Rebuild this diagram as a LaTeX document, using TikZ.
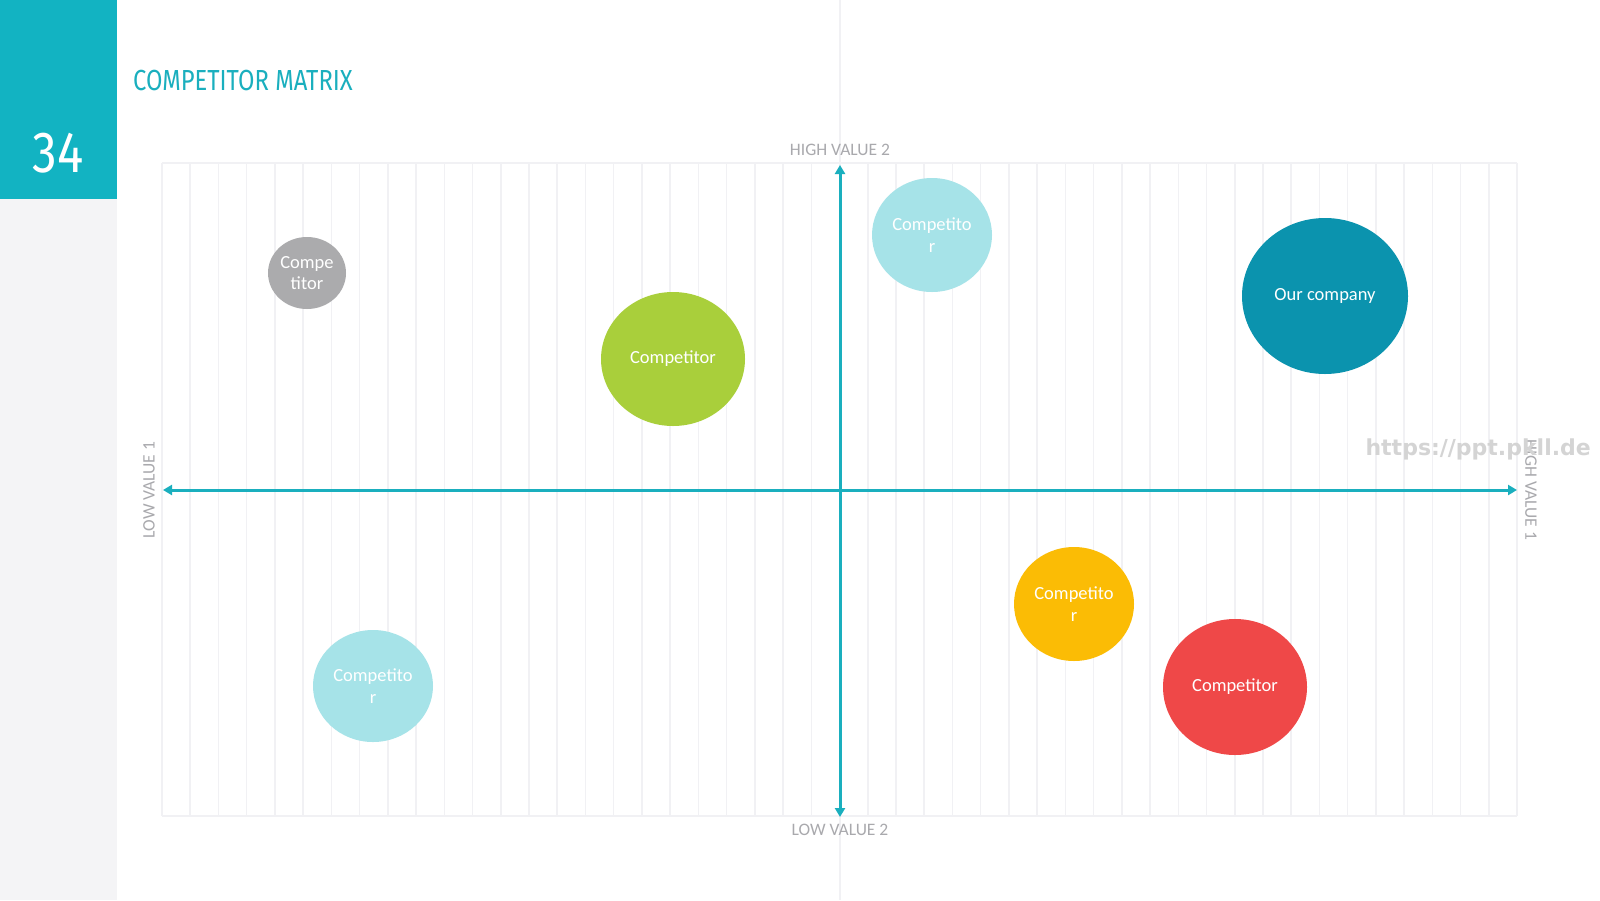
\documentclass[tikz,border=0pt]{standalone}
\usepackage{fontspec}
\setmainfont{Carlito}
\newfontfamily\titlefont{Fira Sans}
\newfontfamily\wmfont{DejaVu Sans}
\usetikzlibrary{shapes.geometric,arrows.meta}
\definecolor{teal}{HTML}{12B3C2}
\definecolor{axisc}{HTML}{1AAFBE}
\definecolor{stripc}{HTML}{F4F4F6}
\definecolor{gridc}{HTML}{F1F1F4}
\definecolor{labelc}{HTML}{A9A9AD}
\definecolor{grayb}{HTML}{ABABAD}
\definecolor{greenb}{HTML}{A9CF3B}
\definecolor{cyanb}{HTML}{A6E3E8}
\definecolor{darkb}{HTML}{0B93AE}
\definecolor{yellowb}{HTML}{FBBC05}
\definecolor{redb}{HTML}{EF4848}
\tikzset{
  bubble/.style={ellipse, inner sep=0pt, text=white, align=center,
    font=\fontsize{18.5}{21.5}\selectfont},
  axislabel/.style={text=labelc, font=\fontsize{17.5}{19}\selectfont, inner sep=0pt},
  axisline/.style={draw=axisc, line width=3pt, -{Triangle[width=10pt,length=9pt]}},
  gridline/.style={draw=gridc, line width=1.5pt},
}
\begin{document}
\begin{tikzpicture}[x=1pt,y=-1pt]
\useasboundingbox (0,0) rectangle (1600,900);
\fill[white] (0,0) rectangle (1600,900);
% left strip
\fill[stripc] (0,199) rectangle (117,900);
\fill[teal] (0,0) rectangle (117,199);
\node[text=white, font=\titlefont\fontsize{58}{60}\selectfont, inner sep=0pt, xscale=0.85] (num) at (58,153) {34};
\node[anchor=west, text=axisc, font=\titlefont\fontsize{29}{30}\selectfont, inner sep=0pt, xscale=0.82] (title) at (133,81) {COMPETITOR MATRIX};
% faint center line
\draw[gridline] (840,0) -- (840,900);
% grid
\foreach \i in {0,...,48} {
  \draw[gridline] ({162+\i*28.23},163) -- ({162+\i*28.23},816);
}
\draw[gridline] (162,163) -- (1517,163);
\draw[gridline] (162,816) -- (1517,816);
% axes
\coordinate (L) at (163,490);
\coordinate (R) at (1517,490);
\coordinate (T) at (840,165);
\coordinate (B) at (840,817);
\coordinate (O) at (840,490);
\draw[axisline] (O) -- (R);
\draw[axisline] (O) -- (L);
\draw[axisline] (O) -- (T);
\draw[axisline] (O) -- (B);
% axis labels
\node[axislabel] (h2) at (840,150) {HIGH VALUE 2};
\node[axislabel] (l2) at (840,830) {LOW VALUE 2};
\node[axislabel, rotate=90] (l1) at (149,490) {LOW VALUE 1};
\node[axislabel, rotate=-90] (h1) at (1531,490) {HIGH VALUE 1};
% bubbles
\node[bubble, fill=grayb, minimum width=78pt, minimum height=72pt] (c1) at (307,273) {Compe\\titor};
\node[bubble, fill=greenb, minimum width=144pt, minimum height=134pt] (c2) at (673,359) {Competitor};
\node[bubble, fill=cyanb, minimum width=120pt, minimum height=114pt] (c3) at (932,235) {Competito\\r};
\node[bubble, fill=darkb, minimum width=166pt, minimum height=156pt] (c4) at (1325,296) {Our company};
\node[bubble, fill=yellowb, minimum width=120pt, minimum height=114pt] (c5) at (1074,604) {Competito\\r};
\node[bubble, fill=redb, minimum width=144pt, minimum height=136pt] (c6) at (1235,687) {Competitor};
\node[bubble, fill=cyanb, minimum width=120pt, minimum height=112pt] (c7) at (373,686) {Competito\\r};
% watermark
\node[text=black!17, font=\wmfont\bfseries\fontsize{22}{24}\selectfont, inner sep=0pt, anchor=east] (wm) at (1591,449) {https://ppt.pkll.de};
\end{tikzpicture}
\end{document}
